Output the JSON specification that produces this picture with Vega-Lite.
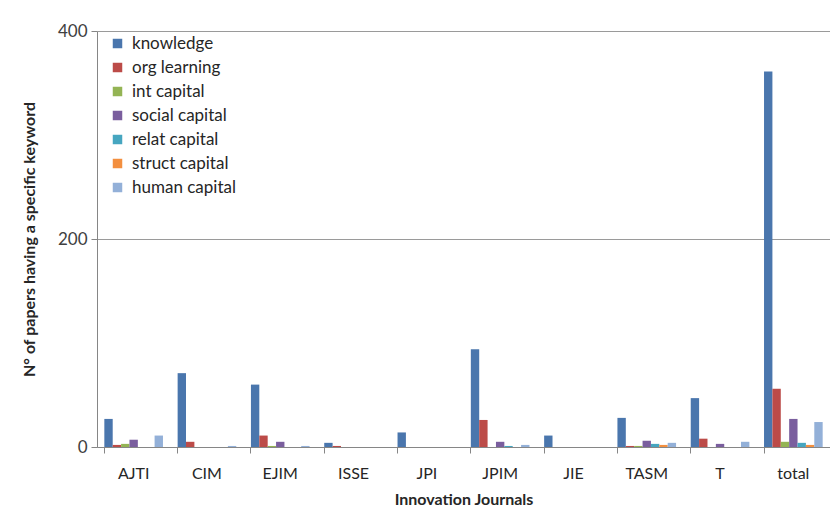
{
  "$schema": "https://vega.github.io/schema/vega-lite/v6.json",
  "autosize": {"type": "none"},
  "width": 733,
  "height": 416,
  "padding": {"left": 97, "top": 31, "right": 0, "bottom": 66},
  "background": "white",
  "config": {
    "font": "Lato",
    "view": {"stroke": null}
  },
  "data": {
    "values": [
      {"journal": "AJTI", "keyword": "knowledge", "count": 27},
      {"journal": "AJTI", "keyword": "org learning", "count": 2},
      {"journal": "AJTI", "keyword": "int capital", "count": 3},
      {"journal": "AJTI", "keyword": "social capital", "count": 7},
      {"journal": "AJTI", "keyword": "relat capital", "count": 0},
      {"journal": "AJTI", "keyword": "struct capital", "count": 0},
      {"journal": "AJTI", "keyword": "human capital", "count": 11},
      {"journal": "CIM", "keyword": "knowledge", "count": 71},
      {"journal": "CIM", "keyword": "org learning", "count": 5},
      {"journal": "CIM", "keyword": "int capital", "count": 0},
      {"journal": "CIM", "keyword": "social capital", "count": 0},
      {"journal": "CIM", "keyword": "relat capital", "count": 0},
      {"journal": "CIM", "keyword": "struct capital", "count": 0},
      {"journal": "CIM", "keyword": "human capital", "count": 1},
      {"journal": "EJIM", "keyword": "knowledge", "count": 60},
      {"journal": "EJIM", "keyword": "org learning", "count": 11},
      {"journal": "EJIM", "keyword": "int capital", "count": 1},
      {"journal": "EJIM", "keyword": "social capital", "count": 5},
      {"journal": "EJIM", "keyword": "relat capital", "count": 0},
      {"journal": "EJIM", "keyword": "struct capital", "count": 0},
      {"journal": "EJIM", "keyword": "human capital", "count": 1},
      {"journal": "ISSE", "keyword": "knowledge", "count": 4},
      {"journal": "ISSE", "keyword": "org learning", "count": 1},
      {"journal": "ISSE", "keyword": "int capital", "count": 0},
      {"journal": "ISSE", "keyword": "social capital", "count": 0},
      {"journal": "ISSE", "keyword": "relat capital", "count": 0},
      {"journal": "ISSE", "keyword": "struct capital", "count": 0},
      {"journal": "ISSE", "keyword": "human capital", "count": 0},
      {"journal": "JPI", "keyword": "knowledge", "count": 14},
      {"journal": "JPI", "keyword": "org learning", "count": 0},
      {"journal": "JPI", "keyword": "int capital", "count": 0},
      {"journal": "JPI", "keyword": "social capital", "count": 0},
      {"journal": "JPI", "keyword": "relat capital", "count": 0},
      {"journal": "JPI", "keyword": "struct capital", "count": 0},
      {"journal": "JPI", "keyword": "human capital", "count": 0},
      {"journal": "JPIM", "keyword": "knowledge", "count": 94},
      {"journal": "JPIM", "keyword": "org learning", "count": 26},
      {"journal": "JPIM", "keyword": "int capital", "count": 0},
      {"journal": "JPIM", "keyword": "social capital", "count": 5},
      {"journal": "JPIM", "keyword": "relat capital", "count": 1},
      {"journal": "JPIM", "keyword": "struct capital", "count": 0},
      {"journal": "JPIM", "keyword": "human capital", "count": 2},
      {"journal": "JIE", "keyword": "knowledge", "count": 11},
      {"journal": "JIE", "keyword": "org learning", "count": 0},
      {"journal": "JIE", "keyword": "int capital", "count": 0},
      {"journal": "JIE", "keyword": "social capital", "count": 0},
      {"journal": "JIE", "keyword": "relat capital", "count": 0},
      {"journal": "JIE", "keyword": "struct capital", "count": 0},
      {"journal": "JIE", "keyword": "human capital", "count": 0},
      {"journal": "TASM", "keyword": "knowledge", "count": 28},
      {"journal": "TASM", "keyword": "org learning", "count": 1},
      {"journal": "TASM", "keyword": "int capital", "count": 1},
      {"journal": "TASM", "keyword": "social capital", "count": 6},
      {"journal": "TASM", "keyword": "relat capital", "count": 3},
      {"journal": "TASM", "keyword": "struct capital", "count": 2},
      {"journal": "TASM", "keyword": "human capital", "count": 4},
      {"journal": "T", "keyword": "knowledge", "count": 47},
      {"journal": "T", "keyword": "org learning", "count": 8},
      {"journal": "T", "keyword": "int capital", "count": 0},
      {"journal": "T", "keyword": "social capital", "count": 3},
      {"journal": "T", "keyword": "relat capital", "count": 0},
      {"journal": "T", "keyword": "struct capital", "count": 0},
      {"journal": "T", "keyword": "human capital", "count": 5},
      {"journal": "total", "keyword": "knowledge", "count": 361},
      {"journal": "total", "keyword": "org learning", "count": 56},
      {"journal": "total", "keyword": "int capital", "count": 5},
      {"journal": "total", "keyword": "social capital", "count": 27},
      {"journal": "total", "keyword": "relat capital", "count": 4},
      {"journal": "total", "keyword": "struct capital", "count": 2},
      {"journal": "total", "keyword": "human capital", "count": 24}
    ]
  },
  "mark": {"type": "bar"},
  "encoding": {
    "x": {
      "field": "journal",
      "type": "nominal",
      "sort": ["AJTI", "CIM", "EJIM", "ISSE", "JPI", "JPIM", "JIE", "TASM", "T", "total"],
      "scale": {"paddingInner": 0.2, "paddingOuter": 0.1},
      "axis": {
        "title": "Innovation Journals",
        "titleFont": "Lato",
        "titleFontSize": 16,
        "titleFontWeight": "bold",
        "titleColor": "#262626",
        "titlePadding": 10,
        "labelAngle": 0,
        "labelFontSize": 16,
        "labelColor": "#262626",
        "labelPadding": 12,
        "domainColor": "#868686",
        "tickColor": "#868686",
        "tickSize": 6,
        "bandPosition": 0,
        "grid": false
      }
    },
    "xOffset": {
      "field": "keyword",
      "type": "nominal",
      "sort": ["knowledge", "org learning", "int capital", "social capital", "relat capital", "struct capital", "human capital"],
      "scale": {"paddingInner": 0, "paddingOuter": 0}
    },
    "y": {
      "field": "count",
      "type": "quantitative",
      "scale": {"domain": [0, 400], "nice": false},
      "axis": {
        "title": "N° of papers having a specific keyword",
        "titleFontSize": 16,
        "titleFontWeight": "bold",
        "titleColor": "#262626",
        "titlePadding": 20,
        "values": [0, 200, 400],
        "labelFontSize": 17,
        "labelColor": "#404040",
        "labelPadding": 4,
        "domainColor": "#868686",
        "tickColor": "#868686",
        "tickSize": 6,
        "grid": true,
        "gridColor": "#9a9a9a",
        "gridWidth": 1
      }
    },
    "color": {
      "field": "keyword",
      "type": "nominal",
      "sort": ["knowledge", "org learning", "int capital", "social capital", "relat capital", "struct capital", "human capital"],
      "scale": {
        "domain": ["knowledge", "org learning", "int capital", "social capital", "relat capital", "struct capital", "human capital"],
        "range": ["#4A76AD", "#BC4B48", "#94B454", "#7A5E9E", "#46A6C0", "#F38F3F", "#93B0D8"]
      },
      "legend": {
        "title": null,
        "orient": "none",
        "legendX": 12,
        "legendY": 4,
        "symbolType": "square",
        "symbolSize": 90,
        "symbolStrokeWidth": 0,
        "labelFontSize": 17,
        "labelColor": "#262626",
        "rowPadding": 6,
        "labelOffset": 6
      }
    }
  }
}
